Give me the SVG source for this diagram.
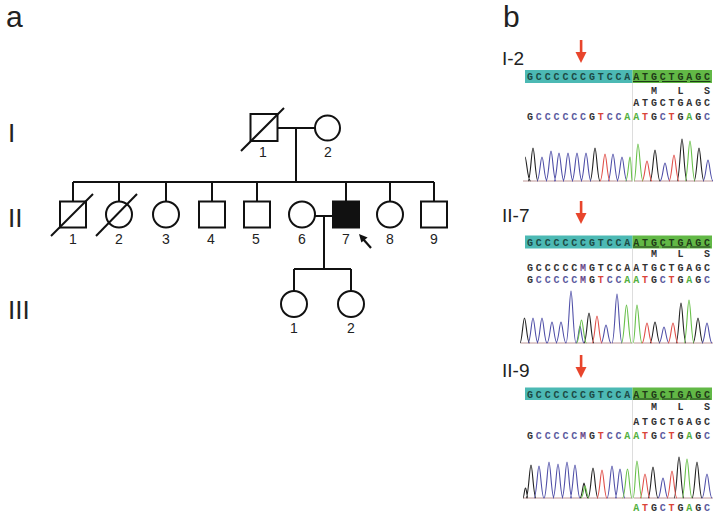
<svg xmlns="http://www.w3.org/2000/svg" width="718" height="517" viewBox="0 0 718 517">
<style>
.sym{fill:#fff;stroke:#111;stroke-width:2}
.aff{fill:#111;stroke:#111;stroke-width:2}
.ln{fill:none;stroke:#111;stroke-width:2}
.num{font-family:"Liberation Sans",Arial,sans-serif;font-size:14px;fill:#222;text-anchor:middle}
.gen{font-family:"Liberation Sans",Arial,sans-serif;font-size:26px;fill:#222}
.pl{font-family:"Liberation Sans",Arial,sans-serif;font-size:30px;fill:#222}
.sl{font-family:"Liberation Sans",Arial,sans-serif;font-size:19px;fill:#222}
.sq{font-family:"Liberation Mono","Courier New",monospace;font-size:10px;font-weight:bold;text-anchor:middle}
.k{fill:#333}.cB{fill:#5a5a9e}.tR{fill:#d9443a}.aG{fill:#52b040}.mP{fill:#6a4a8a}
.bt1{fill:#1c4a44}.bt2{fill:#1f3a18}
.cyan{fill:#4cb9b4}.grn{fill:#62b846}
.pk{fill:none;stroke-width:1.1}
.pkK{stroke:#222}.pkB{stroke:#5050a8}.pkR{stroke:#e0504a}.pkG{stroke:#68c04a}
.base{stroke:#b58a8a;stroke-width:0.9}
.sep{stroke:#d4d4d4;stroke-width:0.8}
.ul{stroke:#1f3a18;stroke-width:1}
.rarr{fill:#e8452c}
</style>

<!-- panel labels -->
<text class="pl" x="6" y="27">a</text>
<text class="pl" x="503" y="27">b</text>

<!-- generation labels -->
<text class="gen" x="8" y="142">I</text>
<text class="gen" x="8" y="227">II</text>
<text class="gen" x="8" y="319">III</text>

<!-- connectors -->
<g id="connectors">
<path class="ln" d="M278 128H315"/>
<path class="ln" d="M296 128V182"/>
<path class="ln" d="M73 182H434"/>
<path class="ln" d="M73 182V201.5M119 182V201.5M166 182V201.5M212 182V201.5M257 182V201.5M346 182V201.5M390 182V201.5M434 182V201.5"/>
<path class="ln" d="M315 216H333"/>
<path class="ln" d="M324 216V269"/>
<path class="ln" d="M294 269H351M294 269V291M351 269V291"/>
</g>

<!-- Generation I -->
<g id="I-1">
<rect class="sym" x="250.5" y="114" width="27" height="27"/>
<path class="ln" d="M241 151L284 108"/>
<text class="num" x="263" y="157">1</text>
</g>
<g id="I-2">
<circle class="sym" cx="327.5" cy="128" r="12.5"/>
<text class="num" x="328" y="157">2</text>
</g>

<!-- Generation II -->
<g id="II-1">
<rect class="sym" x="60" y="201.5" width="26" height="26"/>
<path class="ln" d="M51 236L93 194"/>
<text class="num" x="73" y="244">1</text>
</g>
<g id="II-2">
<circle class="sym" cx="119" cy="214.5" r="13"/>
<path class="ln" d="M96 236L137 194"/>
<text class="num" x="119" y="244">2</text>
</g>
<g id="II-3">
<circle class="sym" cx="166" cy="214.5" r="13"/>
<text class="num" x="166" y="244">3</text>
</g>
<g id="II-4">
<rect class="sym" x="199" y="201.5" width="26" height="26"/>
<text class="num" x="211" y="244">4</text>
</g>
<g id="II-5">
<rect class="sym" x="244" y="201.5" width="26" height="26"/>
<text class="num" x="256" y="244">5</text>
</g>
<g id="II-6">
<circle class="sym" cx="302" cy="214.5" r="13"/>
<text class="num" x="302" y="244">6</text>
</g>
<g id="II-7">
<rect class="aff" x="333" y="201.5" width="26" height="26"/>
<text class="num" x="346" y="244">7</text>
<path d="M371 248L363.5 239.5" stroke="#111" stroke-width="2.2"/>
<polygon points="359,234 367.6,237.4 361.4,242.6" fill="#111"/>
</g>
<g id="II-8">
<circle class="sym" cx="390" cy="214.5" r="13"/>
<text class="num" x="390" y="244">8</text>
</g>
<g id="II-9">
<rect class="sym" x="421" y="201.5" width="26" height="26"/>
<text class="num" x="434" y="244">9</text>
</g>

<!-- Generation III -->
<g id="III-1">
<circle class="sym" cx="294" cy="304" r="13"/>
<text class="num" x="294" y="333">1</text>
</g>
<g id="III-2">
<circle class="sym" cx="351" cy="304" r="13"/>
<text class="num" x="351" y="333">2</text>
</g>

<!-- ===== Panel b ===== -->
<!-- I-2 -->
<g id="seq-I-2">
<text class="sl" x="502" y="65">I-2</text>
<rect class="rarr" x="579.8" y="40" width="2.6" height="13"/>
<polygon class="rarr" points="575.5,52 586.5,52 581,63"/>
<rect class="cyan" x="525" y="70" width="107.5" height="13"/>
<rect class="grn" x="632.5" y="70" width="79.5" height="13"/>
<line class="sep" x1="632.5" y1="83" x2="632.5" y2="182"/>
<text class="sq bt1" x="530 538.85 547.7 556.55 565.4 574.25 583.1 591.95 600.8 609.65 618.5 627.35" y="80">GCCCCCCGTCCA</text>
<text class="sq bt2" x="636.2 645.05 653.9 662.75 671.6 680.45 689.3 698.15 707" y="80">ATGCTGAGC</text>
<path class="ul" d="M633 81.5H659M662 81.5H687M690 81.5H710.5"/>
<text class="sq k" x="653.9 680.45 707" y="94">MLS</text>
<text class="sq k" x="636.2 645.05 653.9 662.75 671.6 680.45 689.3 698.15 707" y="106">ATGCTGAGC</text>
<text class="sq" y="120"><tspan class="k" x="530">G</tspan><tspan class="cB" x="538.85 547.7 556.55 565.4 574.25 583.1">CCCCCC</tspan><tspan class="k" x="591.95">G</tspan><tspan class="tR" x="600.8">T</tspan><tspan class="cB" x="609.65 618.5">CC</tspan><tspan class="aG" x="627.35 636.2">AA</tspan><tspan class="tR" x="645.05">T</tspan><tspan class="k" x="653.9">G</tspan><tspan class="cB" x="662.75">C</tspan><tspan class="tR" x="671.6">T</tspan><tspan class="k" x="680.45">G</tspan><tspan class="aG" x="689.3">A</tspan><tspan class="k" x="698.15">G</tspan><tspan class="cB" x="707">C</tspan></text>
<path class="base" d="M523 181H632M634 181H713"/>
<path class="pk pkK" d="M525 157C526.5 157 527.5 181 530.5 181M528 181C530.5 181 531.5 148 533 148S535.5 181 538 181M590 181C592.5 181 593.5 148 595 148S597.5 181 600 181M650 181C652.5 181 653.5 150 655 150S657.5 181 660 181M677 181C679.5 181 680.5 139 682 139S684.5 181 687 181M694 181C696.5 181 697.5 148 699 148S701.5 181 704 181"/>
<path class="pk pkB" d="M537 181C539.5 181 540.5 157 542 157S544.5 181 547 181M546 181C548.5 181 549.5 151 551 151S553.5 181 556 181M554 181C556.5 181 557.5 153 559 153S561.5 181 564 181M563 181C565.5 181 566.5 153 568 153S570.5 181 573 181M572 181C574.5 181 575.5 153 577 153S579.5 181 582 181M581 181C583.5 181 584.5 153 586 153S588.5 181 591 181M608 181C610.5 181 611.5 154 613 154S615.5 181 618 181M617 181C619.5 181 620.5 157 622 157S624.5 181 627 181M660 181C662.5 181 663.5 163 665 163S667.5 181 670 181M703 181C705.5 181 706.5 160 708 160S710.5 181 713 181"/>
<path class="pk pkR" d="M600 181C602.5 181 603.5 154 605 154S607.5 181 610 181M642 181C644.5 181 645.5 161 647 161S649.5 181 652 181M669 181C671.5 181 672.5 155 674 155S676.5 181 679 181"/>
<path class="pk pkG" d="M625.5 181C628 181 628.8 157 630 157S631.5 181 632 181M634 181C636 181 636.5 144 638 144S640.5 181 643 181M685 181C687.5 181 688.5 141 690 141S692.5 181 695 181"/>
</g>

<!-- II-7 -->
<g id="seq-II-7">
<text class="sl" x="502" y="222">II-7</text>
<rect class="rarr" x="579.8" y="201" width="2.6" height="13"/>
<polygon class="rarr" points="575.5,213 586.5,213 581,224"/>
<rect class="cyan" x="525" y="235.5" width="107.5" height="13"/>
<rect class="grn" x="632.5" y="235.5" width="79.5" height="13"/>
<line class="sep" x1="632.5" y1="248.5" x2="632.5" y2="344"/>
<text class="sq bt1" x="530 538.85 547.7 556.55 565.4 574.25 583.1 591.95 600.8 609.65 618.5 627.35" y="245.5">GCCCCCCGTCCA</text>
<text class="sq bt2" x="636.2 645.05 653.9 662.75 671.6 680.45 689.3 698.15 707" y="245.5">ATGCTGAGC</text>
<path class="ul" d="M633 247H659M662 247H687M690 247H710.5"/>
<text class="sq k" x="653.9 680.45 707" y="257">MLS</text>
<text class="sq" y="270.5"><tspan class="k" x="530 538.85 547.7 556.55 565.4 574.25">GCCCCC</tspan><tspan class="mP" x="583.1">M</tspan><tspan class="k" x="591.95 600.8 609.65 618.5 627.35 636.2 645.05 653.9 662.75 671.6 680.45 689.3 698.15 707">GTCCAATGCTGAGC</tspan></text>
<text class="sq" y="283"><tspan class="k" x="530">G</tspan><tspan class="cB" x="538.85 547.7 556.55 565.4 574.25">CCCCC</tspan><tspan class="mP" x="583.1">M</tspan><tspan class="k" x="591.95">G</tspan><tspan class="tR" x="600.8">T</tspan><tspan class="cB" x="609.65 618.5">CC</tspan><tspan class="aG" x="627.35 636.2">AA</tspan><tspan class="tR" x="645.05">T</tspan><tspan class="k" x="653.9">G</tspan><tspan class="cB" x="662.75">C</tspan><tspan class="tR" x="671.6">T</tspan><tspan class="k" x="680.45">G</tspan><tspan class="aG" x="689.3">A</tspan><tspan class="k" x="698.15">G</tspan><tspan class="cB" x="707">C</tspan></text>
<path class="base" d="M521 343H632M634 343H713"/>
<path class="pk pkK" d="M520 343C522 343 523 318 524.5 318S527 343 529.5 343M584 343C586.5 343 587.5 313 589 313S591.5 343 594 343M650 343C652.5 343 653.5 322 655 322S657.5 343 660 343M676 343C678.5 343 679.5 303 681 303S683.5 343 686 343M693 343C695.5 343 696.5 318 698 318S700.5 343 703 343"/>
<path class="pk pkB" d="M528 343C530.5 343 531.5 318 533 318S535.5 343 538 343M537 343C539.5 343 540.5 318 542 318S544.5 343 547 343M547 343C549.5 343 550.5 322 552 322S554.5 343 557 343M556 343C558.5 343 559.5 322 561 322S563.5 343 566 343M566 343C568.5 343 569.5 291 571 291S573.5 343 576 343M576 343C578 343 579 326 580 326S582 343 584 343M601 343C603.5 343 604.5 325 606 325S608.5 343 611 343M612 343C614.5 343 615.5 294 617 294S619.5 343 622 343M659 343C661.5 343 662.5 327 664 327S666.5 343 669 343M702 343C704.5 343 705.5 323 707 323S709.5 343 712 343"/>
<path class="pk pkR" d="M592 343C594.5 343 595.5 316 597 316S599.5 343 602 343M642 343C644.5 343 645.5 323 647 323S649.5 343 652 343M668 343C670.5 343 671.5 323 673 323S675.5 343 678 343"/>
<path class="pk pkG" d="M576.5 343C579 343 580 320 581.5 320S584 343 586.5 343M621.5 343C624 343 625 305 626.5 305S629 343 631.5 343M633 343C635 343 635.5 305 637 305S639.5 343 642 343M684 343C686.5 343 687.5 300 689 300S691.5 343 694 343"/>
</g>

<!-- II-9 -->
<g id="seq-II-9">
<text class="sl" x="502" y="377">II-9</text>
<rect class="rarr" x="579.8" y="355" width="2.6" height="13"/>
<polygon class="rarr" points="575.5,367 586.5,367 581,378"/>
<rect class="cyan" x="525" y="387.5" width="107.5" height="12.5"/>
<rect class="grn" x="632.5" y="387.5" width="79.5" height="12.5"/>
<line class="sep" x1="632.5" y1="400" x2="632.5" y2="499"/>
<text class="sq bt1" x="530 538.85 547.7 556.55 565.4 574.25 583.1 591.95 600.8 609.65 618.5 627.35" y="397.5">GCCCCCCGTCCA</text>
<text class="sq bt2" x="636.2 645.05 653.9 662.75 671.6 680.45 689.3 698.15 707" y="397.5">ATGCTGAGC</text>
<path class="ul" d="M633 399H659M662 399H687M690 399H710.5"/>
<text class="sq k" x="653.9 680.45 707" y="410">MLS</text>
<text class="sq k" x="636.2 645.05 653.9 662.75 671.6 680.45 689.3 698.15 707" y="424.5">ATGCTGAGC</text>
<text class="sq" y="438.5"><tspan class="k" x="530">G</tspan><tspan class="cB" x="538.85 547.7 556.55 565.4 574.25">CCCCC</tspan><tspan class="mP" x="583.1">M</tspan><tspan class="k" x="591.95">G</tspan><tspan class="tR" x="600.8">T</tspan><tspan class="cB" x="609.65 618.5">CC</tspan><tspan class="aG" x="627.35 636.2">AA</tspan><tspan class="tR" x="645.05">T</tspan><tspan class="k" x="653.9">G</tspan><tspan class="cB" x="662.75">C</tspan><tspan class="tR" x="671.6">T</tspan><tspan class="k" x="680.45">G</tspan><tspan class="aG" x="689.3">A</tspan><tspan class="k" x="698.15">G</tspan><tspan class="cB" x="707">C</tspan></text>
<path class="base" d="M523 498H632M634 498H713"/>
<path class="pk pkK" d="M523 498C524 498 524.5 488 525.5 488S527 498 528 498M526 498C528.5 498 529.5 465 531 465S533.5 498 536 498M580 498C582 498 583 483 584 483S586 498 588 498M588 498C590.5 498 591.5 468 593 468S595.5 498 598 498M648 498C650.5 498 651.5 467 653 467S655.5 498 658 498M674 498C676.5 498 677.5 457 679 457S681.5 498 684 498M692 498C694.5 498 695.5 462 697 462S699.5 498 702 498"/>
<path class="pk pkB" d="M534 498C536.5 498 537.5 466 539 466S541.5 498 544 498M544 498C546.5 498 547.5 462 549 462S551.5 498 554 498M553 498C555.5 498 556.5 464 558 464S560.5 498 563 498M562 498C564.5 498 565.5 462 567 462S569.5 498 572 498M570 498C572.5 498 573.5 465 575 465S577.5 498 580 498M607 498C609.5 498 610.5 466 612 466S614.5 498 617 498M615 498C617.5 498 618.5 469 620 469S622.5 498 625 498M658 498C660.5 498 661.5 478 663 478S665.5 498 668 498M702 498C704.5 498 705.5 474 707 474S709.5 498 712 498"/>
<path class="pk pkR" d="M597 498C599.5 498 600.5 470 602 470S604.5 498 607 498M640 498C642.5 498 643.5 474 645 474S647.5 498 650 498M667 498C669.5 498 670.5 471 672 471S674.5 498 677 498"/>
<path class="pk pkG" d="M581 498C583 498 584 486 585 486S587 498 589 498M622.5 498C625 498 626 469 627.5 469S630 498 632 498M633 498C635 498 635.5 461 637 461S639.5 498 642 498M682 498C684.5 498 685.5 459 687 459S689.5 498 692 498"/>
<text class="sq" y="511"><tspan class="aG" x="636.2">A</tspan><tspan class="tR" x="645.05">T</tspan><tspan class="k" x="653.9">G</tspan><tspan class="cB" x="662.75">C</tspan><tspan class="tR" x="671.6">T</tspan><tspan class="k" x="680.45">G</tspan><tspan class="aG" x="689.3">A</tspan><tspan class="k" x="698.15">G</tspan><tspan class="cB" x="707">C</tspan></text>
</g>
</svg>
